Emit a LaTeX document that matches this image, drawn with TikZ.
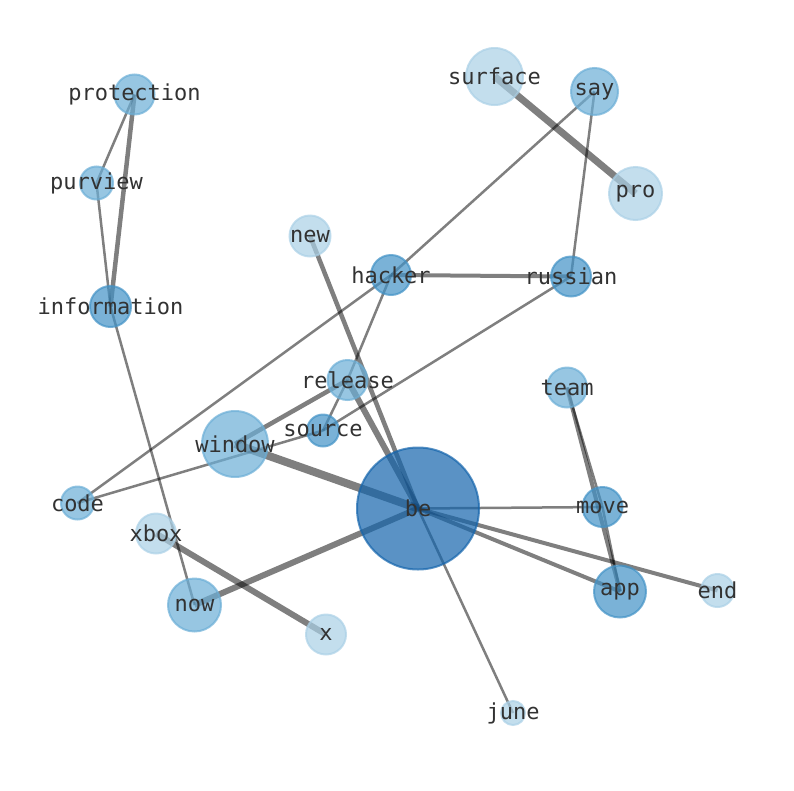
\documentclass[tikz,border=0pt]{standalone}
\usepackage{fontspec}
\newfontfamily\labfont{DejaVu Sans Mono}
\usetikzlibrary{backgrounds}
\definecolor{blA}{RGB}{170,208,230}
\definecolor{blB}{RGB}{107,174,214}
\definecolor{blC}{RGB}{66,146,198}
\definecolor{blD}{RGB}{20,100,172}
\definecolor{labc}{RGB}{50,50,50}
\tikzset{
  nd/.style={circle, inner sep=0pt, line width=2pt, fill opacity=0.7, draw opacity=0.7, fill=#1, draw=#1},
  lbl/.style={inner sep=0pt, text=labc, font=\labfont\fontsize{22}{26}\selectfont},
  ed/.style={draw=black, draw opacity=0.5, line width=#1},
}
\newcommand\gnode[5]{\node[nd=#5, minimum size=#4pt] (#1) at (#2,#3) {};}
\begin{document}
\begin{tikzpicture}[x=1pt,y=-1pt]
\useasboundingbox (0,0) rectangle (794,790);
% nodes (circles)
\gnode{protection}{134.5}{94.5}{40}{blB}
\gnode{purview}{96.5}{183}{33}{blB}
\gnode{information}{110.5}{306.5}{41}{blC}
\gnode{surface}{494.5}{76.5}{57}{blA}
\gnode{say}{594.5}{91.5}{47}{blB}
\gnode{pro}{635.5}{193.5}{53}{blA}
\gnode{new}{310}{236}{41}{blA}
\gnode{hacker}{391}{275}{40}{blC}
\gnode{russian}{571}{276.5}{40}{blC}
\gnode{release}{347.5}{380}{40}{blB}
\gnode{team}{567}{387.5}{40}{blB}
\gnode{source}{323}{430.5}{32}{blC}
\gnode{window}{235}{444}{66}{blB}
\gnode{be}{418}{508.5}{122}{blD}
\gnode{move}{602.5}{507}{40}{blC}
\gnode{code}{77.5}{503}{33}{blB}
\gnode{xbox}{156}{533.5}{40}{blA}
\gnode{now}{194.5}{605}{53}{blB}
\gnode{app}{620}{591.5}{52}{blC}
\gnode{end}{717.5}{590.5}{33}{blA}
\gnode{x}{326}{634.5}{40}{blA}
\gnode{june}{513}{713}{24}{blA}
% edges
\begin{scope}[on background layer]
\draw[ed=2.5pt] (protection.center) -- (purview.center);
\draw[ed=4.5pt] (protection.center) -- (information.center);
\draw[ed=2.5pt] (purview.center) -- (information.center);
\draw[ed=2.5pt] (information.center) -- (now.center);
\draw[ed=7pt] (surface.center) -- (pro.center);
\draw[ed=2.5pt] (say.center) -- (hacker.center);
\draw[ed=2.5pt] (say.center) -- (russian.center);
\draw[ed=4pt] (hacker.center) -- (russian.center);
\draw[ed=2.5pt] (hacker.center) -- (code.center);
\draw[ed=2.5pt] (hacker.center) -- (release.center);
\draw[ed=2.5pt] (release.center) -- (source.center);
\draw[ed=2.5pt] (code.center) -- (source.center);
\draw[ed=2.5pt] (source.center) -- (russian.center);
\draw[ed=4.5pt] (release.center) -- (window.center);
\draw[ed=8pt] (window.center) -- (be.center);
\draw[ed=6pt] (release.center) -- (be.center);
\draw[ed=4.5pt] (new.center) -- (be.center);
\draw[ed=2.5pt] (be.center) -- (june.center);
\draw[ed=2.5pt] (be.center) -- (move.center);
\draw[ed=4pt] (be.center) -- (app.center);
\draw[ed=4pt] (be.center) -- (end.center);
\draw[ed=6pt] (be.center) -- (now.center);
\draw[ed=4pt] (team.center) -- (app.center);
\draw[ed=2.5pt] (team.center) -- (move.center);
\draw[ed=2.5pt] (move.center) -- (app.center);
\draw[ed=6pt] (xbox.center) -- (x.center);
\end{scope}
% labels
\foreach \n in {protection,purview,information,surface,say,pro,new,hacker,russian,release,team,source,window,be,move,code,xbox,now,app,end,x,june}
  \node[lbl] (\n-t) at (\n.center) {\n};
\end{tikzpicture}
\end{document}
